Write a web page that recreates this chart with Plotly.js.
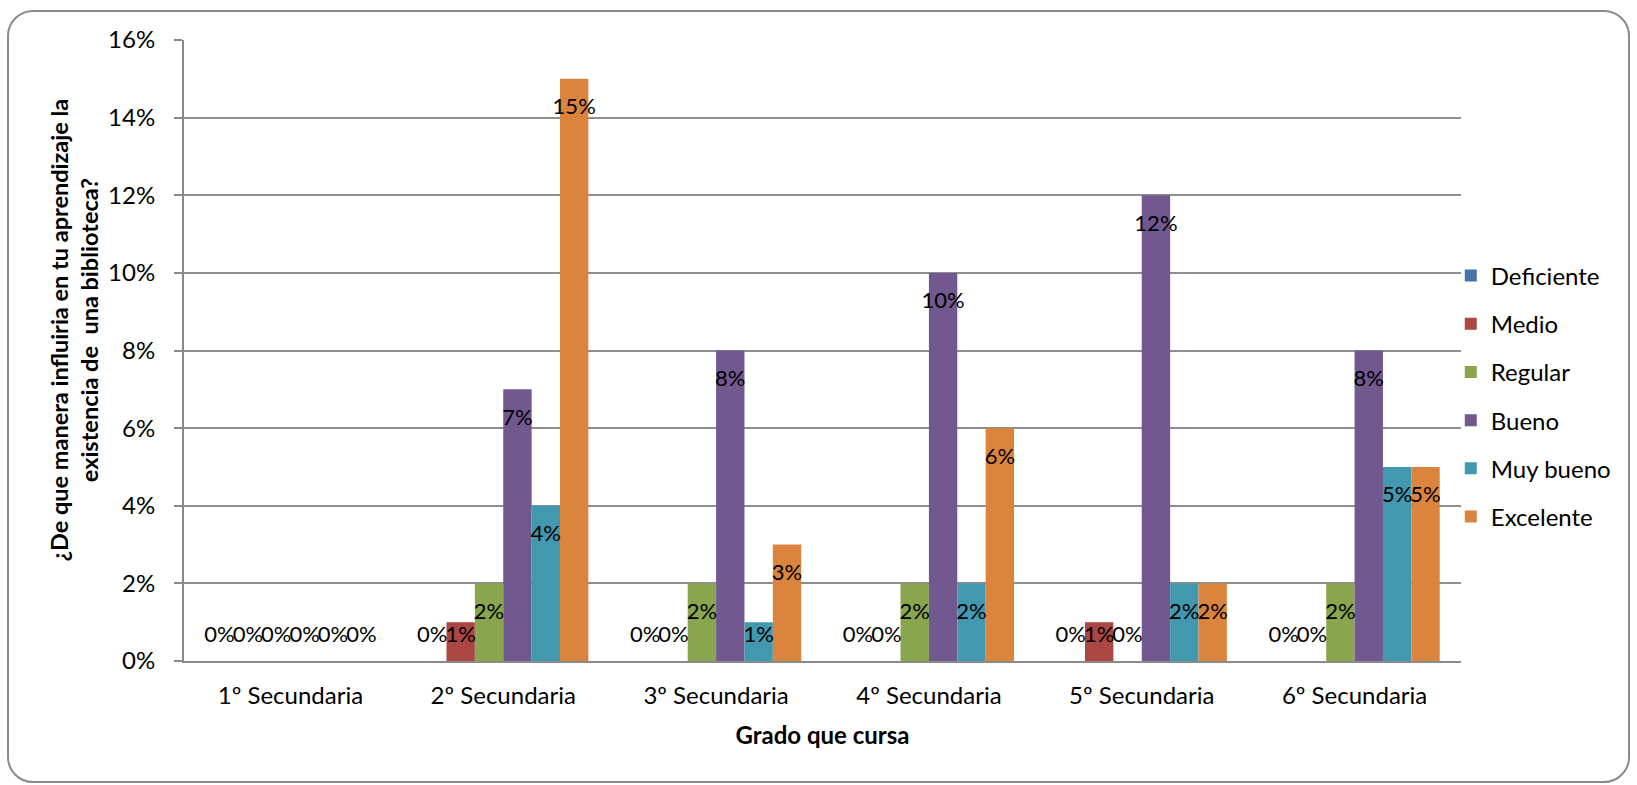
<!DOCTYPE html>
<html>
<head>
<meta charset="utf-8">
<script src="https://cdn.plot.ly/plotly-3.0.1.min.js"></script>
<style>
  html, body { margin: 0; padding: 0; background: #ffffff; }
  #frame {
    position: absolute; left: 7px; top: 10px; width: 1619px; height: 769px;
    border: 2px solid #8a8a8a; border-radius: 26px; background: #ffffff;
  }
  #chart { position: absolute; left: 0; top: 0; width: 1637px; height: 785px; }
</style>
</head>
<body>
<div id="frame"></div>
<div id="chart"></div>
<script>
// ---- data (percent) ----
const grados = ["1º Secundaria", "2º Secundaria", "3º Secundaria", "4º Secundaria", "5º Secundaria", "6º Secundaria"];
const seriesNames = ["Deficiente", "Medio", "Regular", "Bueno", "Muy bueno", "Excelente"];
const deficiente = [0, 0, 0, 0, 0, 0];
const medio      = [0, 1, 0, 0, 1, 0];
const regular    = [0, 2, 2, 2, 0, 2];
const bueno      = [0, 7, 8, 10, 12, 8];
const muyBueno   = [0, 4, 1, 2, 2, 5];
const excelente  = [0, 15, 3, 6, 2, 5];
const yTicks = [0, 2, 4, 6, 8, 10, 12, 14, 16];
const xTitle = "Grado que cursa";
const yTitle = "¿De que manera influiria en tu aprendizaje la<br>existencia de  una biblioteca?";

const seriesValues = [deficiente, medio, regular, bueno, muyBueno, excelente];
const colors = ["#4572A7", "#AA4643", "#89A54E", "#71588F", "#4198AF", "#DB843D"];

const FONT = "Lato, 'Open Sans', sans-serif";
const traces = [];

seriesValues.forEach((vals, i) => {
  traces.push({
    type: "bar",
    name: seriesNames[i],
    x: grados,
    y: vals,
    marker: { color: colors[i] },
    legendgroup: "g" + i,
    hoverinfo: "name+y"
  });
});

// data labels (Excel "inside end" style), drawn as grouped text traces
seriesValues.forEach((vals, i) => {
  traces.push({
    type: "scatter",
    mode: "text",
    x: grados,
    y: vals.map(v => Math.max(v - 0.77, 0.62)),
    text: vals.map(v => v + "%"),
    textposition: "middle center",
    textfont: { family: FONT, size: 22, color: "#000000" },
    showlegend: false,
    hoverinfo: "skip",
    offsetgroup: "s" + i,
    alignmentgroup: "labels",
    cliponaxis: false
  });
});

const layout = {
  width: 1637,
  height: 785,
  margin: { l: 184, r: 176, t: 40, b: 124 },
  paper_bgcolor: "rgba(0,0,0,0)",
  plot_bgcolor: "rgba(0,0,0,0)",
  font: { family: FONT, size: 24, color: "#000000" },
  barmode: "group",
  bargap: 0.2,
  bargroupgap: 0,
  scattermode: "group",
  scattergap: 0.2,
  showlegend: true,
  legend: {
    x: 0.992, xanchor: "left",
    y: 0.426, yanchor: "middle",
    font: { family: FONT, size: 24, color: "#000000" },
    tracegroupgap: 14,
    bgcolor: "rgba(0,0,0,0)",
    traceorder: "grouped"
  },
  xaxis: {
    type: "category",
    showgrid: false,
    showline: true,
    linecolor: "#8a8a8a",
    linewidth: 2,
    ticks: "",
    ticklabelstandoff: 12,
    tickfont: { family: FONT, size: 24, color: "#000000" },
    title: {
      text: xTitle,
      font: { family: FONT, size: 24, color: "#000000", weight: "bold" },
      standoff: 19
    },
    fixedrange: true
  },
  yaxis: {
    range: [0, 16],
    tickvals: yTicks,
    ticktext: yTicks.map(t => t + "%"),
    showgrid: true,
    gridcolor: "#8e8e8e",
    gridwidth: 2,
    showline: true,
    linecolor: "#8a8a8a",
    linewidth: 2,
    ticks: "outside",
    ticklen: 8,
    tickwidth: 2,
    tickcolor: "#8a8a8a",
    ticklabelstandoff: 14,
    tickfont: { family: FONT, size: 24, color: "#000000" },
    zeroline: false,
    fixedrange: true
  },
  annotations: [{
    text: yTitle,
    textangle: -90,
    xref: "paper", yref: "paper",
    x: -0.0865, y: 0.533,
    xanchor: "center", yanchor: "middle",
    showarrow: false,
    align: "center",
    font: { family: FONT, size: 23.5, color: "#000000", weight: "bold" }
  }]
};

Plotly.newPlot("chart", traces, layout, { displayModeBar: false, staticPlot: true });
</script>
</body>
</html>
